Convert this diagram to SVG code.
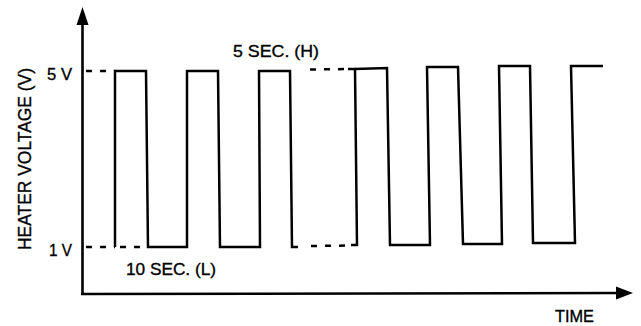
<svg xmlns="http://www.w3.org/2000/svg" width="641" height="326" viewBox="0 0 641 326">
<style>
.ax{stroke:#000;stroke-width:2.6;fill:none}
.wf{stroke:#000;stroke-width:2.5;fill:none;stroke-linejoin:miter}
.ds{stroke:#000;stroke-width:2.5;fill:none;stroke-dasharray:6 8}
text{font-family:"Liberation Sans",Arial,sans-serif;fill:#000;stroke:#000;stroke-width:0.35}
</style>
<rect width="641" height="326" fill="#fff"/>
<g id="axes">
<line class="ax" x1="82.5" y1="22" x2="82.5" y2="295"/>
<polygon points="82.5,7 76.5,25 88.5,25" fill="#000"/>
<line class="ax" x1="81" y1="294" x2="620" y2="293"/>
<polygon points="633,293 616,286.5 616,299.5" fill="#000"/>
</g>
<g id="dashes">
<line class="ds" x1="86" y1="71" x2="115" y2="71"/>
<line class="ds" x1="86" y1="247" x2="115" y2="247"/>
<line class="ds" x1="120" y1="247" x2="148" y2="247"/>
<line class="ds" x1="310" y1="69.5" x2="350" y2="69" stroke-dasharray="4 16"/>
<line class="ds" x1="311" y1="246" x2="350" y2="245.5" stroke-dasharray="6 14"/>
</g>
<g id="waveform">
<polyline class="wf" points="115,247 115,71 146,71 148,247 187,247 187,71 218,71 220,247 260,247 259,71 290,71 292,247 298,247"/>
<polyline class="wf" points="348,69 355,69 357,245 351,245"/>
<polyline class="wf" points="355,69 387,68 390,245 430,245 427,67 458,67 463,244 502,244 499,66 530,66 533,243 575,243 571,66 603,66"/>
</g>
<g id="labels">
<text x="47" y="80" font-size="17" textLength="25" lengthAdjust="spacingAndGlyphs">5 V</text>
<text x="49" y="256" font-size="17" textLength="23" lengthAdjust="spacingAndGlyphs">1 V</text>
<text x="233" y="57" font-size="17" textLength="86" lengthAdjust="spacingAndGlyphs">5 SEC. (H)</text>
<text x="126" y="275" font-size="17" textLength="90" lengthAdjust="spacingAndGlyphs">10 SEC. (L)</text>
<text x="555" y="322" font-size="17" textLength="39" lengthAdjust="spacingAndGlyphs">TIME</text>
<text transform="translate(31,250) rotate(-90)" font-size="18.5" textLength="182" lengthAdjust="spacingAndGlyphs">HEATER VOLTAGE (V)</text>
</g>
</svg>
